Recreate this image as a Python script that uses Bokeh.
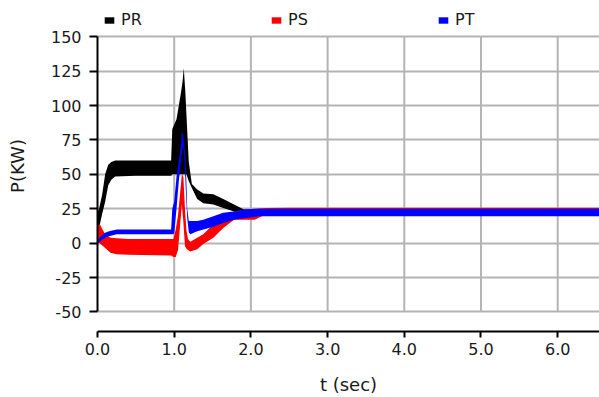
from bokeh.plotting import figure
from bokeh.models import (Range1d, FixedTicker, PrintfTickFormatter, Legend,
                          LegendItem)
from bokeh.embed import file_html
from bokeh.resources import INLINE

# ---- data ----
series_names = ["PR", "PS", "PT"]
series_colors = ["#000000", "#ff0000", "#0000ff"]

t_pr = [0.0, 0.02, 0.06, 0.10, 0.14, 0.18, 0.23, 0.5, 0.8, 0.96, 0.975, 1.03,
        1.06, 1.09, 1.11, 1.125, 1.145, 1.16, 1.19, 1.23, 1.30, 1.38, 1.51,
        1.64, 1.78, 1.91, 2.05, 2.3, 3.0, 4.0, 5.0, 6.6]
pr_low = [12, 11, 21, 30, 42, 46, 48.5, 49, 49, 49, 50, 50,
          50, 50, 50, 50, 50, 50, 45, 40, 32, 29, 28,
          25.5, 23, 22, 21.5, 21, 21, 21, 21, 21]
pr_high = [22, 25, 35, 50, 57, 59, 60, 60, 60, 60, 83, 90,
           100, 110, 118, 127, 110, 93, 59, 43, 39, 36, 35.5,
           32, 28, 24.5, 24.5, 25, 25, 25, 25, 25]

t_ps = [0.0, 0.03, 0.10, 0.17, 0.25, 0.4, 0.96, 0.99, 1.02, 1.05, 1.08, 1.10,
        1.12, 1.14, 1.16, 1.18, 1.21, 1.30, 1.38, 1.51, 1.64, 1.78, 1.91,
        2.05, 2.2, 2.5, 3.0, 4.0, 5.0, 6.6]
ps_low = [0, 0, -3.6, -7, -8, -8.5, -9, -10, -10, -5, 15, 28,
          15, -2, -4, -5, -6, -4.5, -0.7, 4, 11, 17, 17,
          17, 21, 21, 21, 21, 21, 21]
ps_high = [13, 13.7, 6.5, 4, 3.5, 3, 3, 3, 10, 20, 38, 50,
           48, 25, 9, 3, 1, 4, 6.5, 13.7, 21, 23, 24.5,
           25, 25.5, 25.8, 25.8, 25.8, 25.8, 25.8]

t_pt = [0.0, 0.05, 0.10, 0.15, 0.25, 0.5, 0.96, 0.975, 1.0, 1.03, 1.06, 1.09,
        1.10, 1.12, 1.14, 1.15, 1.17, 1.19, 1.21, 1.30, 1.38, 1.51, 1.64,
        1.78, 1.91, 2.1, 3.0, 4.0, 5.0, 6.6]
pt_low = [0, 2, 4, 5, 6.5, 6.5, 6.5, 6.5, 7, 25, 45, 60,
          66, 70, 55, 40, 18, 8, 6.5, 8.6, 10, 12, 14.6,
          17, 18, 19.5, 19.5, 19.5, 19.5, 19.5]
pt_high = [2, 5.5, 7.5, 8.6, 10, 10, 10, 25, 30, 48, 60, 72,
           81, 78, 65, 59, 25, 16, 16, 16, 17, 19.5, 22,
           23, 24.5, 25, 25, 25, 25, 25]

x_ticks = [0, 1, 2, 3, 4, 5, 6]
y_ticks = [-50, -25, 0, 25, 50, 75, 100, 125, 150]
x_title = "t (sec)"
y_title = "P(KW)"

FONT = "DejaVu Sans"
TEXT = "#1a1a1a"
GRID = "#b4b4b4"

p = figure(width=599, height=397, output_backend="svg", toolbar_location=None,
           x_range=Range1d(0, 6.545), y_range=Range1d(-64.2, 176.3),
           min_border_left=97, min_border_right=0, min_border_top=0,
           min_border_bottom=66)
p.outline_line_color = None
p.background_fill_color = "white"
p.border_fill_color = "white"

# grid
p.xgrid.visible = False
p.ygrid.ticker = FixedTicker(ticks=y_ticks)
p.ygrid.grid_line_color = GRID
p.ygrid.grid_line_width = 2
gx = x_ticks[1:]
p.segment(x0=gx, y0=[y_ticks[0]] * len(gx), x1=gx, y1=[y_ticks[-1]] * len(gx),
          line_color=GRID, line_width=2)

# axes
for ax in (p.xaxis[0], p.yaxis[0]):
    ax.axis_line_color = "black"
    ax.axis_line_width = 2
    ax.major_tick_line_color = "black"
    ax.major_tick_line_width = 2
    ax.major_tick_in = 0
    ax.minor_tick_line_color = None
    ax.major_label_text_font = FONT
    ax.major_label_text_font_size = "16px"
    ax.major_label_text_color = TEXT
    ax.axis_label_text_font = FONT
    ax.axis_label_text_font_size = "18px"
    ax.axis_label_text_font_style = "normal"
    ax.axis_label_text_color = TEXT

p.xaxis.ticker = FixedTicker(ticks=x_ticks)
p.xaxis.formatter = PrintfTickFormatter(format="%.1f")
p.xaxis.major_tick_out = 6
p.xaxis.major_label_standoff = 5
p.xaxis.axis_label = x_title
p.xaxis.axis_label_standoff = 16

p.yaxis.ticker = FixedTicker(ticks=y_ticks)
p.yaxis.formatter = PrintfTickFormatter(format="%d")
p.yaxis.bounds = (y_ticks[0], y_ticks[-1])
p.yaxis.major_tick_out = 8
p.yaxis.major_label_standoff = 8
p.yaxis.axis_label = y_title
p.yaxis.axis_label_standoff = 20

# data bands
series = [(t_pr, pr_low, pr_high), (t_ps, ps_low, ps_high), (t_pt, pt_low, pt_high)]
renderers = []
for (tt, lo, hi), col in zip(series, series_colors):
    r = p.varea(x=tt, y1=lo, y2=hi, fill_color=col, fill_alpha=1.0)
    renderers.append(r)

legend = Legend(items=[LegendItem(label=n, renderers=[r])
                       for n, r in zip(series_names, renderers)],
                orientation="horizontal", location=(6, 302),
                padding=0, margin=0, spacing=127,
                glyph_width=12, glyph_height=8, label_standoff=6,
                label_width=22, label_height=16,
                label_text_font=FONT, label_text_font_size="16px",
                label_text_color=TEXT,
                border_line_color=None, background_fill_alpha=0)
p.add_layout(legend, "center")

open("out.html", "w").write(file_html(p, INLINE))
